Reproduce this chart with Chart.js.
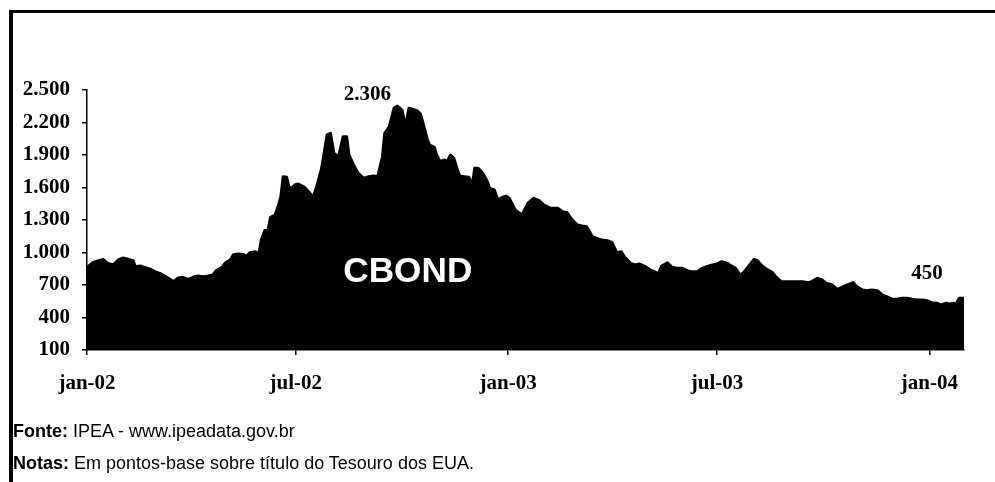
<!DOCTYPE html>
<html>
<head>
<meta charset="utf-8">
<script src="https://cdn.jsdelivr.net/npm/chart.js@4/dist/chart.umd.min.js"></script>
<style>
  html, body { margin: 0; padding: 0; background: #fff; }
  #wrap { position: relative; width: 995px; height: 482px; overflow: hidden; }
  #c { position: absolute; left: 0; top: 0; }
  #frameTop { position: absolute; left: 9px; top: 10px; width: 990px; height: 3px; background: #000; }
  #frameLeft { position: absolute; left: 9px; top: 10px; width: 4px; height: 480px; background: #000; }
  .note { position: absolute; left: 13px; font-family: "Liberation Sans", Arial, sans-serif; font-size: 18px; color: #000; white-space: nowrap; line-height: 20px; }
  .note b { font-weight: bold; }
</style>
</head>
<body>
<div id="wrap">
  <canvas id="c" width="995" height="482"></canvas>
  <div id="frameTop"></div>
  <div id="frameLeft"></div>
  <div class="note" style="top:421px"><b>Fonte:</b> IPEA - www.ipeadata.gov.br</div>
  <div class="note" style="top:453px"><b>Notas:</b> Em pontos-base sobre título do Tesouro dos EUA.</div>
</div>
<script>
// Days since 1 Jan 2002
const days = [0,5,10,14,18,23,27,31,36,40,42,46,50,55,59,63,68,72,75,79,83,88,92,96,101,105,109,112,117,120,124,127,131,136,138,141,146,149,151,154,157,159,163,166,168,170,173,175,177,180,183,188,192,196,199,203,205,208,211,214,218,222,225,227,231,235,240,244,248,252,256,258,262,266,269,273,276,279,282,286,289,292,295,297,301,303,306,310,312,315,318,321,323,327,331,334,336,339,343,347,349,353,356,360,363,366,371,377,382,387,392,396,402,408,412,416,420,425,429,433,438,442,446,451,455,459,463,466,471,475,479,484,488,492,495,498,503,507,511,516,520,524,529,533,537,542,546,550,555,557,562,566,569,573,578,581,585,589,594,598,602,608,614,620,625,628,633,637,641,646,650,654,659,664,667,672,676,680,685,689,693,698,702,706,711,715,719,724,728,732,737,740,744,748,751,753,755,756,760];
// CBOND spread (basis points)
const cbond = [863,906,924,937,900,887,931,949,937,924,869,875,863,845,823,808,777,752,731,765,771,752,771,783,777,783,792,832,863,906,931,980,986,980,961,998,1007,986,1115,1201,1208,1325,1346,1438,1515,1700,1694,1607,1592,1623,1632,1607,1561,1509,1607,1762,1884,2085,2100,1915,1884,2069,2069,1900,1808,1731,1685,1700,1706,1700,1884,2100,2161,2331,2352,2315,2161,2331,2322,2309,2278,2161,2038,1992,1971,1900,1838,1854,1838,1900,1869,1762,1706,1700,1694,1623,1777,1777,1731,1654,1592,1577,1485,1509,1521,1500,1392,1346,1454,1500,1478,1438,1408,1408,1377,1368,1306,1254,1245,1238,1146,1131,1115,1109,1091,998,1007,955,900,885,894,869,838,823,802,875,906,863,854,854,832,823,823,854,869,885,894,915,900,885,854,792,814,869,937,924,875,845,814,762,731,731,731,731,722,731,762,746,715,700,660,678,700,722,685,654,648,654,648,608,592,568,568,577,577,568,562,562,555,537,531,515,531,525,531,515,562,577,577];

const tickDays = [0, 181, 365, 546, 730];
const tickLabels = ['jan-02', 'jul-02', 'jan-03', 'jul-03', 'jan-04'];
const yTicks = [100, 400, 700, 1000, 1300, 1600, 1900, 2200, 2500];

// Text annotations
const annoTexts = ['2.306', '450'];
const annoDays = [243, 728];
const annoValues = [2455, 805];
const seriesName = 'CBOND';
const seriesLabelDay = 278;
const seriesLabelValue = 815;

function fmtPt(v) {
  return String(v).replace(/\B(?=(\d{3})+(?!\d))/g, '.');
}

const annoPlugin = {
  id: 'anno',
  afterDatasetsDraw(chart) {
    const ctx = chart.ctx, xs = chart.scales.x, ys = chart.scales.y;
    ctx.save();
    ctx.fillStyle = '#000';
    ctx.font = 'bold 21px "Liberation Serif", "Times New Roman", serif';
    ctx.textAlign = 'center';
    ctx.textBaseline = 'middle';
    for (let i = 0; i < annoTexts.length; i++) {
      ctx.fillText(annoTexts[i], xs.getPixelForValue(annoDays[i]), ys.getPixelForValue(annoValues[i]));
    }
    const cx = xs.getPixelForValue(seriesLabelDay), cy = ys.getPixelForValue(seriesLabelValue);
    ctx.fillStyle = '#fff';
    ctx.font = 'bold 35px "Liberation Sans", Arial, sans-serif';
    const w = ctx.measureText(seriesName).width;
    ctx.translate(cx, cy);
    ctx.scale(129 / w, 1);
    ctx.fillText(seriesName, 0, 0);
    ctx.restore();
  }
};

new Chart(document.getElementById('c'), {
  type: 'line',
  data: {
    datasets: [{
      label: seriesName,
      data: days.map((d, i) => ({ x: d, y: cbond[i] })),
      borderColor: '#000',
      backgroundColor: '#000',
      borderWidth: 3,
      borderJoinStyle: 'round',
      borderCapStyle: 'round',
      pointRadius: 0,
      tension: 0,
      fill: 'start'
    }]
  },
  options: {
    responsive: false,
    animation: false,
    devicePixelRatio: 1,
    layout: { padding: { left: 0, top: 90, right: 31, bottom: 82 } },
    plugins: { legend: { display: false }, tooltip: { enabled: false } },
    scales: {
      x: {
        type: 'linear',
        min: 0,
        max: 760,
        afterBuildTicks(scale) { scale.ticks = tickDays.map(v => ({ value: v })); },
        afterFit(scale) { scale.height = 50; },
        ticks: {
          autoSkip: false,
          maxRotation: 0,
          padding: 16,
          color: '#000',
          font: { family: '"Liberation Serif", "Times New Roman", serif', size: 21, weight: 'bold' },
          callback(v) { const k = tickDays.indexOf(v); return k >= 0 ? tickLabels[k] : ''; }
        },
        grid: { drawOnChartArea: false, drawTicks: true, tickLength: 5, color: '#000', lineWidth: 1.5 },
        border: { display: true, color: '#000', width: 1.5 }
      },
      y: {
        min: 100,
        max: 2500,
        afterBuildTicks(scale) { scale.ticks = yTicks.map(v => ({ value: v })); },
        afterFit(scale) { scale.width = 87; },
        ticks: {
          padding: 12,
          color: '#000',
          font: { family: '"Liberation Serif", "Times New Roman", serif', size: 21, weight: 'bold' },
          callback(v) { return fmtPt(v); }
        },
        grid: { drawOnChartArea: false, drawTicks: true, tickLength: 5, color: '#000', lineWidth: 1.5 },
        border: { display: true, color: '#000', width: 1.5 }
      }
    }
  },
  plugins: [annoPlugin]
});
</script>
</body>
</html>
